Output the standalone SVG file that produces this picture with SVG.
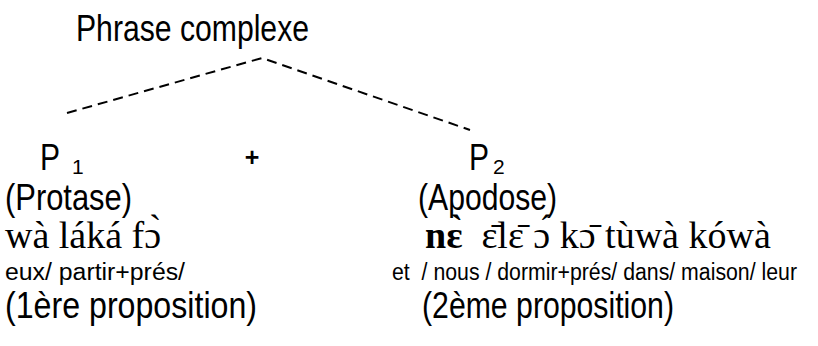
<svg xmlns="http://www.w3.org/2000/svg" width="818" height="346" viewBox="0 0 818 346">
<style>
.s{font-family:"Liberation Sans",Arial,sans-serif;fill:#000}
.big{font-size:37px}
.sub{font-size:21px}
.gl{font-size:23px}
.sf{font-family:"Liberation Serif","Times New Roman",serif;font-size:38px;fill:#000}
.dash{stroke:#000;stroke-width:2;stroke-dasharray:10 6;fill:none}
</style>
<rect width="818" height="346" fill="#fff"/>
<g id="root"><text class="s big" x="76" y="41" textLength="233" lengthAdjust="spacingAndGlyphs">Phrase complexe</text></g>
<g id="connectors">
<path class="dash" d="M67 113 L262 58 L470 130"/>
</g>
<g id="p1">
<text class="s big" x="40" y="170" textLength="20" lengthAdjust="spacingAndGlyphs">P</text>
<text class="s sub" x="72" y="174">1</text>
<text class="s big" x="5" y="210" textLength="127" lengthAdjust="spacingAndGlyphs">(Protase)</text>
<text class="sf" x="5" y="248">wà láká fɔ̀</text>
<text class="s gl" x="5" y="280" textLength="180" lengthAdjust="spacingAndGlyphs">eux/ partir+prés/</text>
<text class="s big" x="5" y="318" textLength="252" lengthAdjust="spacingAndGlyphs">(1ère proposition)</text>
</g>
<g id="plus"><text class="s" x="252" y="166" font-size="25" font-weight="bold" text-anchor="middle">+</text></g>
<g id="p2">
<text class="s big" x="469" y="170" textLength="20" lengthAdjust="spacingAndGlyphs">P</text>
<text class="s sub" x="493" y="174">2</text>
<text class="s big" x="418" y="210" textLength="139" lengthAdjust="spacingAndGlyphs">(Apodose)</text>
<text class="sf" x="425" y="248" xml:space="preserve"><tspan font-weight="bold">nɛ̀</tspan>  ɛ̄lɛ̄ ɔ́ kɔ̄ tùwà kówà</text>
<text class="s gl" x="392" y="280" textLength="405" lengthAdjust="spacingAndGlyphs" xml:space="preserve">et  / nous / dormir+prés/ dans/ maison/ leur</text>
<text class="s big" x="422" y="318" textLength="252" lengthAdjust="spacingAndGlyphs">(2ème proposition)</text>
</g>
</svg>
